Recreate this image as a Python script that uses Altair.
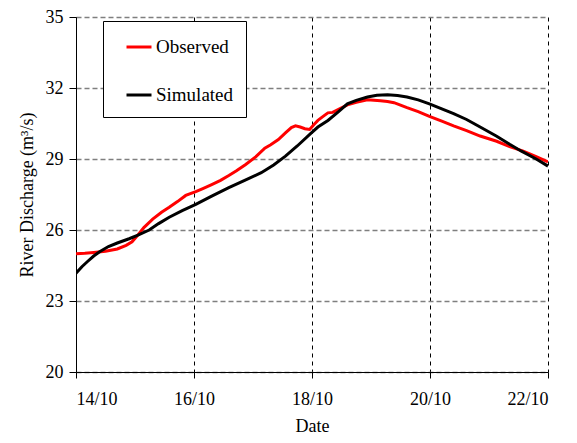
import altair as alt
import pandas as pd

# Days after 14/10
obs_day = [0.0, 0.15, 0.3, 0.5, 0.7, 0.85, 0.95, 1.02, 1.15, 1.3, 1.45, 1.58, 1.72, 1.86,
           2.03, 2.15, 2.3, 2.45, 2.59, 2.72, 2.87, 3.05, 3.2, 3.3, 3.43, 3.55, 3.65, 3.72,
           3.8, 3.88, 3.96, 4.03, 4.1, 4.2, 4.27, 4.35, 4.45, 4.6, 4.75, 4.94, 5.05, 5.16,
           5.28, 5.39, 5.5, 5.61, 5.8, 5.99, 6.2, 6.4, 6.62, 6.85, 7.13, 7.35, 7.58, 7.8, 8.0]
obs_val = [25.00, 25.02, 25.05, 25.10, 25.20, 25.35, 25.50, 25.70, 26.10, 26.46, 26.75, 26.96,
           27.20, 27.46, 27.62, 27.75, 27.92, 28.10, 28.30, 28.50, 28.76, 29.10, 29.46, 29.60,
           29.82, 30.10, 30.33, 30.40, 30.35, 30.28, 30.25, 30.45, 30.63, 30.82, 30.95, 30.97,
           31.10, 31.29, 31.40, 31.50, 31.48, 31.46, 31.43, 31.38, 31.28, 31.17, 31.00, 30.80,
           30.60, 30.40, 30.20, 29.97, 29.75, 29.52, 29.33, 29.10, 28.88]

sim_day = [0.0, 0.1, 0.2, 0.3, 0.4, 0.55, 0.7, 0.9, 1.05, 1.24, 1.4, 1.58, 1.8, 2.03, 2.3,
           2.59, 2.85, 3.14, 3.35, 3.55, 3.75, 3.98, 4.1, 4.27, 4.45, 4.6, 4.75, 4.94, 5.1,
           5.28, 5.45, 5.61, 5.8, 5.99, 6.2, 6.4, 6.62, 6.85, 7.13, 7.35, 7.55, 7.8, 8.0]
sim_val = [24.17, 24.45, 24.68, 24.90, 25.08, 25.30, 25.45, 25.63, 25.78, 26.00, 26.27, 26.54,
           26.82, 27.08, 27.43, 27.79, 28.09, 28.42, 28.75, 29.12, 29.55, 30.08, 30.35, 30.63,
           31.00, 31.33, 31.48, 31.62, 31.69, 31.71, 31.68, 31.62, 31.50, 31.33, 31.12, 30.92,
           30.67, 30.35, 29.96, 29.62, 29.33, 29.00, 28.70]

tick_values = [0, 2, 4, 6, 8]
tick_labels = ["14/10", "16/10", "18/10", "20/10", "22/10"]
y_ticks = [20, 23, 26, 29, 32, 35]
series = ["Observed", "Simulated"]
colors = ["#ff0000", "#000000"]

df = pd.concat([
    pd.DataFrame({"day": obs_day, "value": obs_val, "series": series[0], "ord": 0}),
    pd.DataFrame({"day": sim_day, "value": sim_val, "series": series[1], "ord": 1}),
], ignore_index=True)

label_expr = " : ".join(
    [f"datum.value == {v} ? '{l}'" for v, l in zip(tick_values, tick_labels)] + ["''"]
)

FONT = "Liberation Serif, Times New Roman, serif"

chart = alt.Chart(df).mark_line(strokeWidth=3, clip=True).encode(
    x=alt.X("day:Q", title="Date",
            scale=alt.Scale(domain=[0, 8], nice=False),
            axis=alt.Axis(values=tick_values, labelExpr=label_expr,
                          labelFont=FONT, titleFont=FONT, labelFontSize=18, titleFontSize=18,
                          labelFontWeight="normal", titleFontWeight="normal",
                          labelColor="black", titleColor="black",
                          grid=True, gridColor="#000000", gridDash=[4, 4], gridWidth=1,
                          tickSize=6, tickColor="black", domainColor="black",
                          labelPadding=12, titlePadding=9)),
    y=alt.Y("value:Q", title="River Discharge (m³/s)",
            scale=alt.Scale(domain=[20, 35], nice=False),
            axis=alt.Axis(values=y_ticks,
                          labelFont=FONT, titleFont=FONT, labelFontSize=18, titleFontSize=18,
                          labelFontWeight="normal", titleFontWeight="normal",
                          labelColor="black", titleColor="black",
                          grid=True, gridColor="#7f7f7f", gridDash=[5, 3],
                          gridWidth=1.3, tickSize=7, tickColor="black", domainColor="black",
                          labelPadding=6, titlePadding=9)),
    color=alt.Color("series:N", title=None,
                    scale=alt.Scale(domain=series, range=colors),
                    legend=alt.Legend(orient="none", legendX=27, legendY=4,
                                      symbolType="stroke", symbolSize=625,
                                      symbolStrokeWidth=3, symbolOffset=10,
                                      labelOffset=3, rowPadding=24, padding=12,
                                      strokeColor="black", fillColor="white",
                                      labelFontSize=19, labelFont=FONT,
                                      labelColor="black")),
    order=alt.Order("ord:Q"),
    detail="series:N",
).properties(
    width=472, height=355,
    autosize=alt.AutoSizeParams(type="none"),
    padding={"left": 68, "top": 9, "right": 21, "bottom": 66},
).configure(
    font=FONT
).configure_view(
    stroke=None
)

chart.save("out.html", embed_options={"renderer": "svg", "actions": False})
